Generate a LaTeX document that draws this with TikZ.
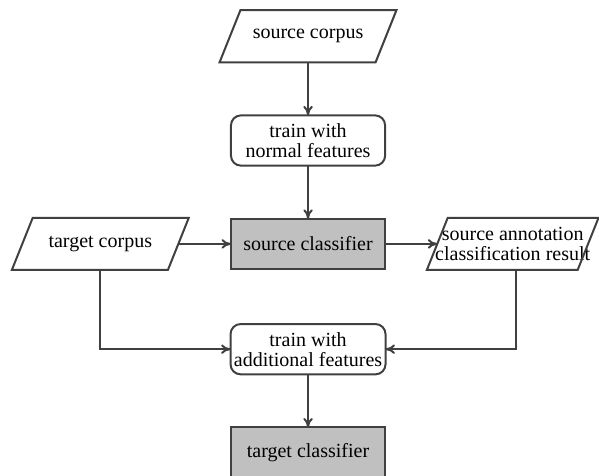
\documentclass[tikz,border=0pt]{standalone}
\usepackage{fontspec}
\setmainfont{Liberation Serif}
\usepackage{tikz}
\usetikzlibrary{arrows.meta,positioning}
\definecolor{edge}{HTML}{404040}
\definecolor{shade}{HTML}{C0C0C0}

\begin{document}
\begin{tikzpicture}[x=1cm,y=1cm,
  font=\fontsize{12}{12}\selectfont,
  node distance=1.12cm,
  box/.style={draw=edge, align=center, inner sep=2pt, outer sep=0pt, minimum width=3.25cm, minimum height=1.06cm, fill=white, line width=1.2pt},
  proc/.style={box, rounded corners=6pt},
  clf/.style={box, fill=shade},
  io/.style={box, draw=none, fill=none, minimum width=3.29cm, minimum height=1.1cm, inner xsep=0pt},
  ioline/.style={draw=edge, line width=1.2pt, line join=miter},
  arr/.style={-{To[length=2mm,width=2mm]}, draw=edge, line width=1.2pt}]
\useasboundingbox (0,0) rectangle (12.63,10.02);
% ----- source side
\node[io] (srccorp) at (6.495,9.257) {source corpus};
\node[proc, below=of srccorp] (trainnorm) {train with\\normal features};
\node[clf, below=of trainnorm] (srcclf) {source classifier};
\node[io, left=1.11cm of srcclf] (tgtcorp) {target corpus};
\node[io, right=1.1cm of srcclf, minimum width=3.18cm, inner xsep=-0.1cm] (annot) {source annotation\\classification result};
% ----- parallelogram outlines of the corpus / result nodes
\foreach \n in {srccorp,tgtcorp,annot}
  \draw[ioline] ([xshift=0.22cm]\n.north west) -- ([xshift=0.22cm]\n.north east)
    -- ([xshift=-0.22cm]\n.south east) -- ([xshift=-0.22cm]\n.south west) -- cycle;
% ----- target side
\node[proc, below=1.16cm of srcclf] (trainadd) {train with\\additional features};
\node[clf, below=of trainadd] (tgtclf) {target classifier};
\draw[arr] (srccorp) -- (trainnorm);
\draw[arr] (trainnorm) -- (srcclf);
\draw[arr] (tgtcorp) -- (srcclf);
\draw[arr] (srcclf) -- (annot);
\draw[arr] (tgtcorp.south) |- (trainadd.west);
\draw[arr] ([xshift=0.07cm]annot.south) |- (trainadd.east);
\draw[arr] (trainadd) -- (tgtclf);
\end{tikzpicture}
\end{document}
